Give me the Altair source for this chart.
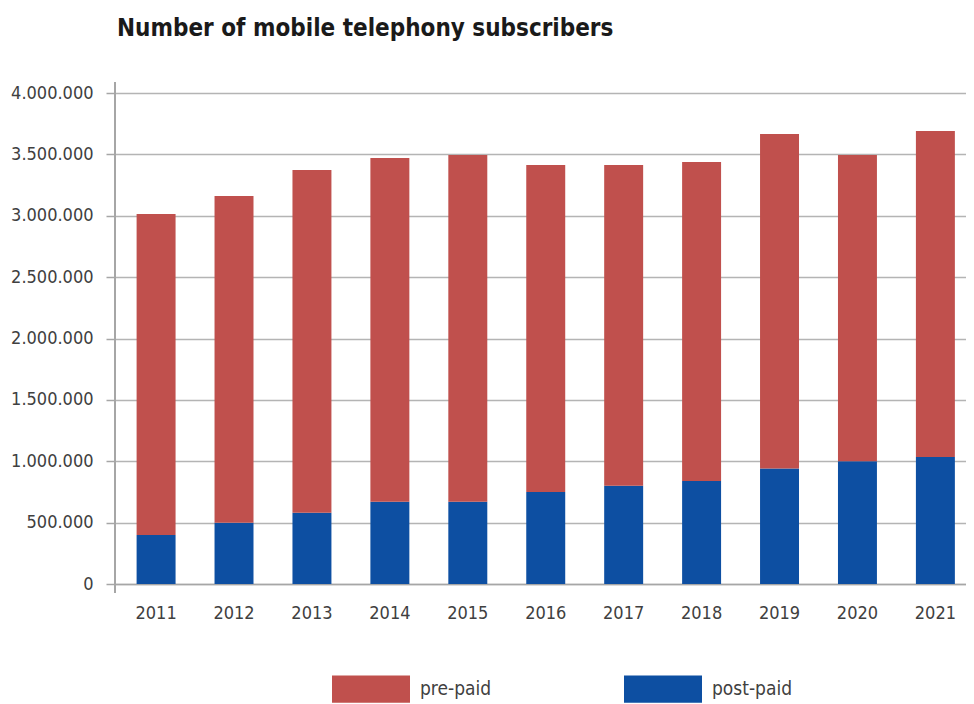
import altair as alt
import pandas as pd

years = ["2011", "2012", "2013", "2014", "2015", "2016", "2017", "2018", "2019", "2020", "2021"]
post_paid = [400000, 500000, 580000, 670000, 670000, 750000, 800000, 840000, 940000, 1000000, 1035000]
total = [3015000, 3161000, 3373000, 3470000, 3495000, 3414000, 3414000, 3438000, 3666000, 3495000, 3690000]
pre_paid = [t - p for t, p in zip(total, post_paid)]
series = ["pre-paid", "post-paid"]
colors = ["#C0504D", "#0D4FA2"]
y_ticks = [0, 500000, 1000000, 1500000, 2000000, 2500000, 3000000, 3500000, 4000000]

rows = []
for i, yr in enumerate(years):
    rows.append({"year": yr, "type": "post-paid", "value": post_paid[i], "ord": 0})
    rows.append({"year": yr, "type": "pre-paid", "value": pre_paid[i], "ord": 1})
df = pd.DataFrame(rows)

FONT = "DejaVu Sans Condensed, Roboto, sans-serif"
W, H = 851, 491

bars = alt.Chart(df).mark_bar().encode(
    x=alt.X("year:N", sort=years, title=None,
            scale=alt.Scale(paddingInner=0.5, paddingOuter=0.21, align=0.66),
            axis=alt.Axis(labelAngle=0, ticks=False, labelPadding=20, domain=True,
                          domainColor="#a6a6a6", domainWidth=1.5)),
    y=alt.Y("value:Q", stack="zero", title=None,
            scale=alt.Scale(domain=[0, 4000000], nice=False),
            axis=alt.Axis(values=y_ticks, grid=True, gridColor="#b4b4b4", gridWidth=1.5,
                          tickSize=9, tickColor="#a6a6a6", tickWidth=1.5, domain=False,
                          labelPadding=13,
                          labelExpr="replace(format(datum.value, ','), regexp(',', 'g'), '.')")),
    color=alt.Color("type:N", scale=alt.Scale(domain=series, range=colors),
                    legend=alt.Legend(title=None, orient="none", direction="horizontal",
                                      legendX=217, legendY=557,
                                      symbolType="M-1,-0.35 H1 V0.35 H-1 Z",
                                      symbolSize=6084, symbolStrokeWidth=0,
                                      labelOffset=10, columnPadding=132, padding=0)),
    order=alt.Order("ord:Q"),
)

yline = alt.Chart(df).mark_rule(color="#a6a6a6", strokeWidth=1.5).encode(
    x=alt.value(0), y=alt.value(-11), y2=alt.value(H + 9)
)

chart = alt.layer(bars, yline).properties(
    width=W, height=H,
    title=alt.TitleParams("Number of mobile telephony subscribers", anchor="start",
                          frame="group", dx=2,
                          font=FONT, fontSize=24, fontWeight="bold", color="#1a1a1a",
                          offset=40),
    autosize=alt.AutoSizeParams(type="none"),
    padding={"left": 107, "top": 85, "right": 0, "bottom": 120},
).configure_view(stroke=None).configure_axis(
    labelFont=FONT, labelFontSize=18, labelColor="#404040"
).configure_legend(
    labelFont=FONT, labelFontSize=19, labelColor="#404040"
)

chart.save("out.html", embed_options={"renderer": "svg", "actions": False})
